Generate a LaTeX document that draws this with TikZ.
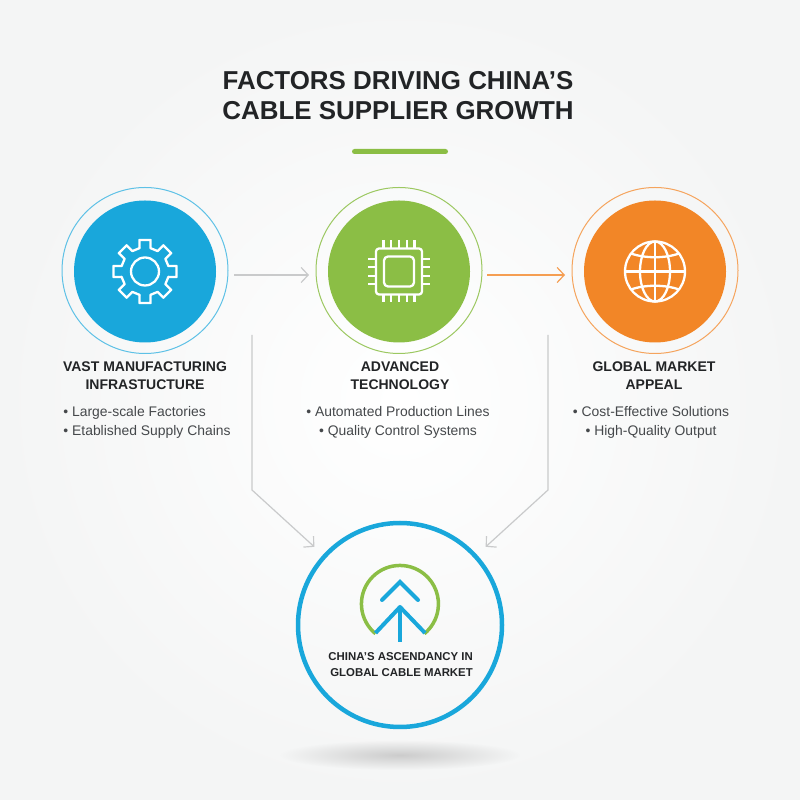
\documentclass[tikz,border=0pt]{standalone}
\usepackage{fontspec}
\setmainfont{Liberation Sans}
\usepackage{tikz}
\usetikzlibrary{calc,arrows.meta,fadings}
\definecolor{pageedge}{HTML}{F4F5F5}
\definecolor{capblue}{HTML}{19A7DB}
\definecolor{capgreen}{HTML}{8BBE45}
\definecolor{caporange}{HTML}{F28627}
\definecolor{linkgrey}{HTML}{C9CACB}
\definecolor{inkdark}{HTML}{222426}
\definecolor{inksoft}{HTML}{45484B}
\tikzfading[name=floorfade, inner color=transparent!0, outer color=transparent!100]
\tikzset{
  ring/.style={circle, draw=#1, line width=1pt, minimum size=166pt, inner sep=0pt, outer sep=0pt},
  disc/.style={circle, fill=#1, minimum size=142pt, inner sep=0pt, outer sep=0pt},
  linkarrow/.style={line width=1.2pt, -{Straight Barb[length=7pt,width=15pt,line width=1.2pt]}},
  iconline/.style={draw=white, line width=2.3pt, line join=round},
  headtext/.style={font=\fontsize{14}{18}\selectfont\bfseries, text=inkdark, align=center, inner sep=0pt},
  listtext/.style={font=\fontsize{13.9}{18.5}\selectfont, text=inksoft, inner sep=0pt}
}

\begin{document}
\begin{tikzpicture}[x=1pt,y=1pt]
    % page
    \useasboundingbox (0,0) rectangle (800,800);
    \shade[inner color=white, outer color=pageedge] (0,0) rectangle (800,800);

    % title
    \node[font=\fontsize{25.9}{30}\selectfont\bfseries, text=inkdark, align=center, inner sep=0pt] (title)
        at (398,704.5) {FACTORS DRIVING CHINA’S\\CABLE SUPPLIER GROWTH};
    \fill[capgreen, rounded corners=2.5pt] (352,646) rectangle (448,651);

    % factor circles
    \node[ring=capblue!70!white] (ringa) at (145,529.5) {};
    \node[disc=capblue] (disca) at (145,528.5) {};
    \node[ring=capgreen!85!white] (ringb) at (399,529.5) {};
    \node[disc=capgreen] (discb) at (399,528.5) {};
    \node[ring=caporange!75!white] (ringc) at (655,529.5) {};
    \node[disc=caporange] (discc) at (655,528.5) {};

    % gear
    \draw[iconline] ($(disca)+(-13:24)$) \foreach \a in {0,45,...,315} {
        -- ($(disca)+(\a-13:24)$) -- ($(disca)+(\a-10:32)$) -- ($(disca)+(\a+10:32)$) -- ($(disca)+(\a+13:24)$)} -- cycle;
    \draw[iconline] (disca) circle (14);

    % chip
    \draw[iconline, rounded corners=3pt] ($(discb)+(-23,-23)$) rectangle ($(discb)+(23,23)$);
    \draw[iconline, rounded corners=4pt] ($(discb)+(-15,-15)$) rectangle ($(discb)+(15,15)$);
    \foreach \s in {-15.5,-7.75,0,7.75,15.5} {
        \draw[iconline] ($(discb)+(\s,23)$) -- ++(0,8);
        \draw[iconline] ($(discb)+(\s,-23)$) -- ++(0,-8);
    }
    \foreach \s in {-12.5,-4.2,4.2,12.5} {
        \draw[iconline] ($(discb)+(23,\s)$) -- ++(8,0);
        \draw[iconline] ($(discb)+(-23,\s)$) -- ++(-8,0);
    }

    % globe
    \draw[iconline] (discc) circle (30);
    \draw[iconline] (discc) ellipse (15 and 30);
    \draw[iconline] ($(discc)+(0,30)$) -- ($(discc)+(0,-30)$);
    \draw[iconline] ($(discc)+(-30,0)$) -- ($(discc)+(30,0)$);
    \draw[iconline] ($(discc)+(-24,18)$) .. controls ($(discc)+(-10,13)$) and ($(discc)+(10,13)$) .. ($(discc)+(24,18)$);
    \draw[iconline] ($(discc)+(-24,-18)$) .. controls ($(discc)+(-10,-13)$) and ($(discc)+(10,-13)$) .. ($(discc)+(24,-18)$);

    % result circle
    \node[circle, draw=capblue, line width=4.5pt, minimum size=204pt, inner sep=0pt, outer sep=0pt] (hub) at (400,175) {};
    \fill[black!20, path fading=floorfade] (400,45) ellipse (120 and 15);

    % rising arrow
    \draw[capgreen, line width=3.5pt] (375.5,166.3) arc[start angle=230.6, end angle=-50.6, radius=38.5];
    \draw[capblue, line width=4pt, line cap=round] (382,200) -- (400,218) -- (418,200);
    \draw[capblue, line width=4pt, line join=round] (375.5,167) -- (400,193) -- (425,167);
    \draw[capblue, line width=4pt] (400,193) -- (400,158);

    % connectors
    \draw[linkarrow, linkgrey] ($(ringa.east)+(6,-4.5)$) -- ($(ringb.west)+(-7,-4.5)$);
    \draw[linkarrow, caporange!80!white] ($(ringb.east)+(5,-4.5)$) -- ($(ringc.west)+(-7,-4.5)$);
    \coordinate (starta) at (252,465);
    \coordinate (benda) at (252,310);
    \coordinate (startb) at (548,465);
    \coordinate (bendb) at (548,310);
    \draw[linkarrow, linkgrey, shorten >=14pt] (starta) -- (benda) -- (hub);
    \draw[linkarrow, linkgrey, shorten >=14pt] (startb) -- (bendb) -- (hub);

    % labels
    \node[headtext, anchor=north] (heada) at (145,438) {VAST MANUFACTURING\\INFRASTUCTURE};
    \node[headtext, anchor=north] (headb) at (400,438) {ADVANCED\\TECHNOLOGY};
    \node[headtext, anchor=north] (headc) at (654,438) {GLOBAL MARKET\\APPEAL};
    \node[listtext, align=left, anchor=north] (lista) at (147,393.5) {• Large-scale Factories\\• Etablished Supply Chains};
    \node[listtext, align=center, anchor=north] (listb) at (398,393.5) {• Automated Production Lines\\• Quality Control Systems};
    \node[listtext, align=center, anchor=north] (listc) at (651,393.5) {• Cost-Effective Solutions\\• High-Quality Output};
    \node[font=\fontsize{11.4}{15.5}\selectfont\bfseries, text=inkdark, align=right, anchor=north east, inner sep=0pt] (hubtext)
        at (473,147.5) {CHINA’S ASCENDANCY IN\\GLOBAL CABLE MARKET};
\end{tikzpicture}
\end{document}
